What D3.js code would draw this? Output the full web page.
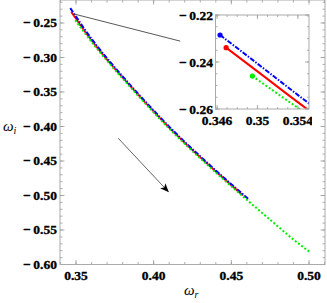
<!DOCTYPE html>
<html>
<head>
<meta charset="utf-8">
<title>omega plot</title>
<script src="https://cdn.jsdelivr.net/npm/d3@7/dist/d3.min.js"></script>
<style>
  body { margin: 0; background: #fff; }
  svg { display: block; }
</style>
</head>
<body>
<script>
// series data (omega_r, omega_i)
var redX   = [0.3469, 0.350, 0.355, 0.362, 0.370, 0.380, 0.390, 0.400, 0.410, 0.420, 0.430, 0.440, 0.450, 0.4575];
var redY   = [-0.2339, -0.2440, -0.2603, -0.2810, -0.3030, -0.3290, -0.3540, -0.3782, -0.4017, -0.4237, -0.4447, -0.4652, -0.4852, -0.4999];
var blueX  = [0.3463, 0.350, 0.355, 0.362, 0.370, 0.380, 0.390, 0.400, 0.410, 0.420, 0.430, 0.440, 0.450, 0.4616];
var blueY  = [-0.2285, -0.2407, -0.2573, -0.2788, -0.3012, -0.3274, -0.3525, -0.3768, -0.4003, -0.4223, -0.4433, -0.4638, -0.4838, -0.5062];
var greenX = [0.3495, 0.355, 0.362, 0.370, 0.380, 0.390, 0.400, 0.410, 0.420, 0.430, 0.440, 0.450, 0.460, 0.470, 0.480, 0.490, 0.5003];
var greenY = [-0.2460, -0.2625, -0.2830, -0.3048, -0.3306, -0.3555, -0.3797, -0.4032, -0.4252, -0.4462, -0.4667, -0.4867, -0.5063, -0.5256, -0.5448, -0.5638, -0.5815];

var xTicks = [0.35, 0.40, 0.45, 0.50];
var yTicks = [-0.60, -0.55, -0.50, -0.45, -0.40, -0.35, -0.30, -0.25];
var xInsetTicks = [0.346, 0.350, 0.354];
var yInsetTicks = [-0.26, -0.24, -0.22];

// annotation anchors in data units
var arrowPts = [[0.3772, -0.4171], [0.4094, -0.4945]];
var linkPts  = [[0.3483, -0.2367], [0.4171, -0.2763]];

var width = 327, height = 303;
var serif = "'Liberation Serif', 'Times New Roman', serif";

var x = d3.scaleLinear().domain([0.3397, 0.5103]).range([60, 325]),
    y = d3.scaleLinear().domain([-0.60, -0.2167]).range([264.5, 0]);

var xi = d3.scaleLinear().domain([0.34585, 0.3551]).range([215.5, 309]),
    yi = d3.scaleLinear().domain([-0.26, -0.22]).range([109, 15]);

var svg = d3.select("body").append("svg")
    .attr("width", width).attr("height", height);

var defs = svg.append("defs");
defs.append("clipPath").attr("id", "mainclip")
  .append("rect").attr("x", 60).attr("y", 0).attr("width", 265).attr("height", 264.5);
defs.append("clipPath").attr("id", "insetclip")
  .append("rect").attr("x", xi.range()[0]).attr("y", yi.range()[1])
  .attr("width", xi.range()[1] - xi.range()[0]).attr("height", yi.range()[0] - yi.range()[1]);
defs.append("clipPath").attr("id", "labelclip")
  .append("rect").attr("x", 0).attr("y", 0).attr("width", 312).attr("height", height);
defs.append("marker").attr("id", "head")
    .attr("viewBox", "0 0 10 10").attr("refX", 9).attr("refY", 5)
    .attr("markerWidth", 9).attr("markerHeight", 9).attr("orient", "auto")
    .attr("markerUnits", "userSpaceOnUse")
  .append("path").attr("d", "M0,1 L10,5 L0,9 L2.5,5 Z").attr("fill", "#000");

function fmt(v, n) {
  var s = Math.abs(v).toFixed(n);
  return (v < 0 ? "\u2212\u2009" : "") + s;
}

function zip(xs, ys) { return xs.map(function(d, i) { return [d, ys[i]]; }); }

function label(sel) {
  return sel.attr("font-family", serif).attr("font-weight", 700)
    .attr("font-size", "13.5px").attr("fill", "#000")
    .attr("stroke", "#000").attr("stroke-width", 0.35);
}

var series = [
  {pts: zip(redX, redY),     color: "#ff0000", dash: null,            w: 1.8},
  {pts: zip(blueX, blueY),   color: "#0000ff", dash: "5,1.5,1.5,1.5", w: 2},
  {pts: zip(greenX, greenY), color: "#00ee00", dash: "2,2",           w: 2}
];

// frame with inward ticks on all four sides
function frameTicks(g, sx, sy, majX, minX, majY, minY, lenMaj, lenMin) {
  var x0 = sx.range()[0], x1 = sx.range()[1], y0 = sy.range()[0], y1 = sy.range()[1];
  var t = g.append("g").attr("stroke", "#999").attr("stroke-width", 0.8);
  function xt(v, len) {
    var px = sx(v);
    if (px < x0 || px > x1) return;
    t.append("line").attr("x1", px).attr("x2", px).attr("y1", y0).attr("y2", y0 - len);
    t.append("line").attr("x1", px).attr("x2", px).attr("y1", y1).attr("y2", y1 + len);
  }
  function yt(v, len) {
    var py = sy(v);
    if (py > y0 || py < y1) return;
    t.append("line").attr("y1", py).attr("y2", py).attr("x1", x0).attr("x2", x0 + len);
    t.append("line").attr("y1", py).attr("y2", py).attr("x1", x1).attr("x2", x1 - len);
  }
  minX.forEach(function(v) { xt(v, lenMin); });
  majX.forEach(function(v) { xt(v, lenMaj); });
  minY.forEach(function(v) { yt(v, lenMin); });
  majY.forEach(function(v) { yt(v, lenMaj); });
  g.append("rect").attr("x", x0).attr("y", y1).attr("width", x1 - x0).attr("height", y0 - y1)
    .attr("fill", "none").attr("stroke", "#aaa").attr("stroke-width", 1);
}

var main = svg.append("g");
frameTicks(main, x, y, xTicks, d3.range(34, 52).map(function(i) { return i / 100; }),
  yTicks, d3.range(-60, -20).map(function(i) { return i / 100; }), 4.5, 2.5);

label(main.selectAll(".xl").data(xTicks).enter().append("text"))
  .attr("x", function(d) { return x(d); }).attr("y", 280)
  .attr("text-anchor", "middle").text(function(d) { return d.toFixed(2); });
label(main.selectAll(".yl").data(yTicks).enter().append("text"))
  .attr("x", 57).attr("y", function(d) { return y(d) + 4.5; })
  .attr("text-anchor", "end").text(function(d) { return fmt(d, 2); });

var line = d3.line().curve(d3.curveMonotoneX)
  .x(function(d) { return x(d[0]); }).y(function(d) { return y(d[1]); });

var curves = main.append("g").attr("clip-path", "url(#mainclip)");
series.forEach(function(s) {
  curves.append("path").attr("d", line(s.pts)).attr("fill", "none")
    .attr("stroke", s.color).attr("stroke-width", s.w)
    .attr("stroke-dasharray", s.dash);
});

// connector and arrow
main.append("line")
  .attr("x1", x(linkPts[0][0])).attr("y1", y(linkPts[0][1]))
  .attr("x2", x(linkPts[1][0])).attr("y2", y(linkPts[1][1]))
  .attr("stroke", "#444").attr("stroke-width", 0.9);
main.append("line")
  .attr("x1", x(arrowPts[0][0])).attr("y1", y(arrowPts[0][1]))
  .attr("x2", x(arrowPts[1][0])).attr("y2", y(arrowPts[1][1]))
  .attr("stroke", "#666").attr("stroke-width", 1)
  .attr("marker-end", "url(#head)");

// axis titles
var yt = svg.append("text").attr("font-family", serif).attr("font-style", "italic")
  .attr("font-size", "15px").attr("x", 3).attr("y", 131);
yt.append("tspan").text("\u03c9");
yt.append("tspan").attr("font-size", "10px").attr("dy", 3).text("i");
var xt = svg.append("text").attr("font-family", serif).attr("font-style", "italic")
  .attr("font-size", "15px").attr("x", 184).attr("y", 295);
xt.append("tspan").text("\u03c9");
xt.append("tspan").attr("font-size", "10px").attr("dy", 3).text("r");

// inset
var inset = svg.append("g");
inset.append("rect").attr("x", xi.range()[0]).attr("y", yi.range()[1])
  .attr("width", xi.range()[1] - xi.range()[0]).attr("height", yi.range()[0] - yi.range()[1])
  .attr("fill", "#fff");

var lineI = d3.line().curve(d3.curveMonotoneX)
  .x(function(d) { return xi(d[0]); }).y(function(d) { return yi(d[1]); });

var ic = inset.append("g").attr("clip-path", "url(#insetclip)");
series.forEach(function(s) {
  ic.append("path").attr("d", lineI(s.pts)).attr("fill", "none")
    .attr("stroke", s.color).attr("stroke-width", 2)
    .attr("stroke-dasharray", s.dash);
  ic.append("circle").attr("cx", xi(s.pts[0][0])).attr("cy", yi(s.pts[0][1]))
    .attr("r", 2.6).attr("fill", s.color);
});

frameTicks(inset, xi, yi, xInsetTicks, d3.range(346, 356).map(function(i) { return i / 1000; }),
  yInsetTicks, d3.range(-260, -219, 5).map(function(i) { return i / 1000; }), 4, 2);

var il = inset.append("g").attr("clip-path", "url(#labelclip)");
label(il.selectAll(".xl").data(xInsetTicks).enter().append("text"))
  .attr("x", function(d) { return xi(d); }).attr("y", 124.5)
  .attr("text-anchor", "middle").text(function(d) { return +d.toFixed(3) + ""; });
label(il.selectAll(".yl").data(yInsetTicks).enter().append("text"))
  .attr("x", 213).attr("y", function(d) { return yi(d) + 4.5; })
  .attr("text-anchor", "end").text(function(d) { return fmt(d, 2); });
</script>
</body>
</html>
